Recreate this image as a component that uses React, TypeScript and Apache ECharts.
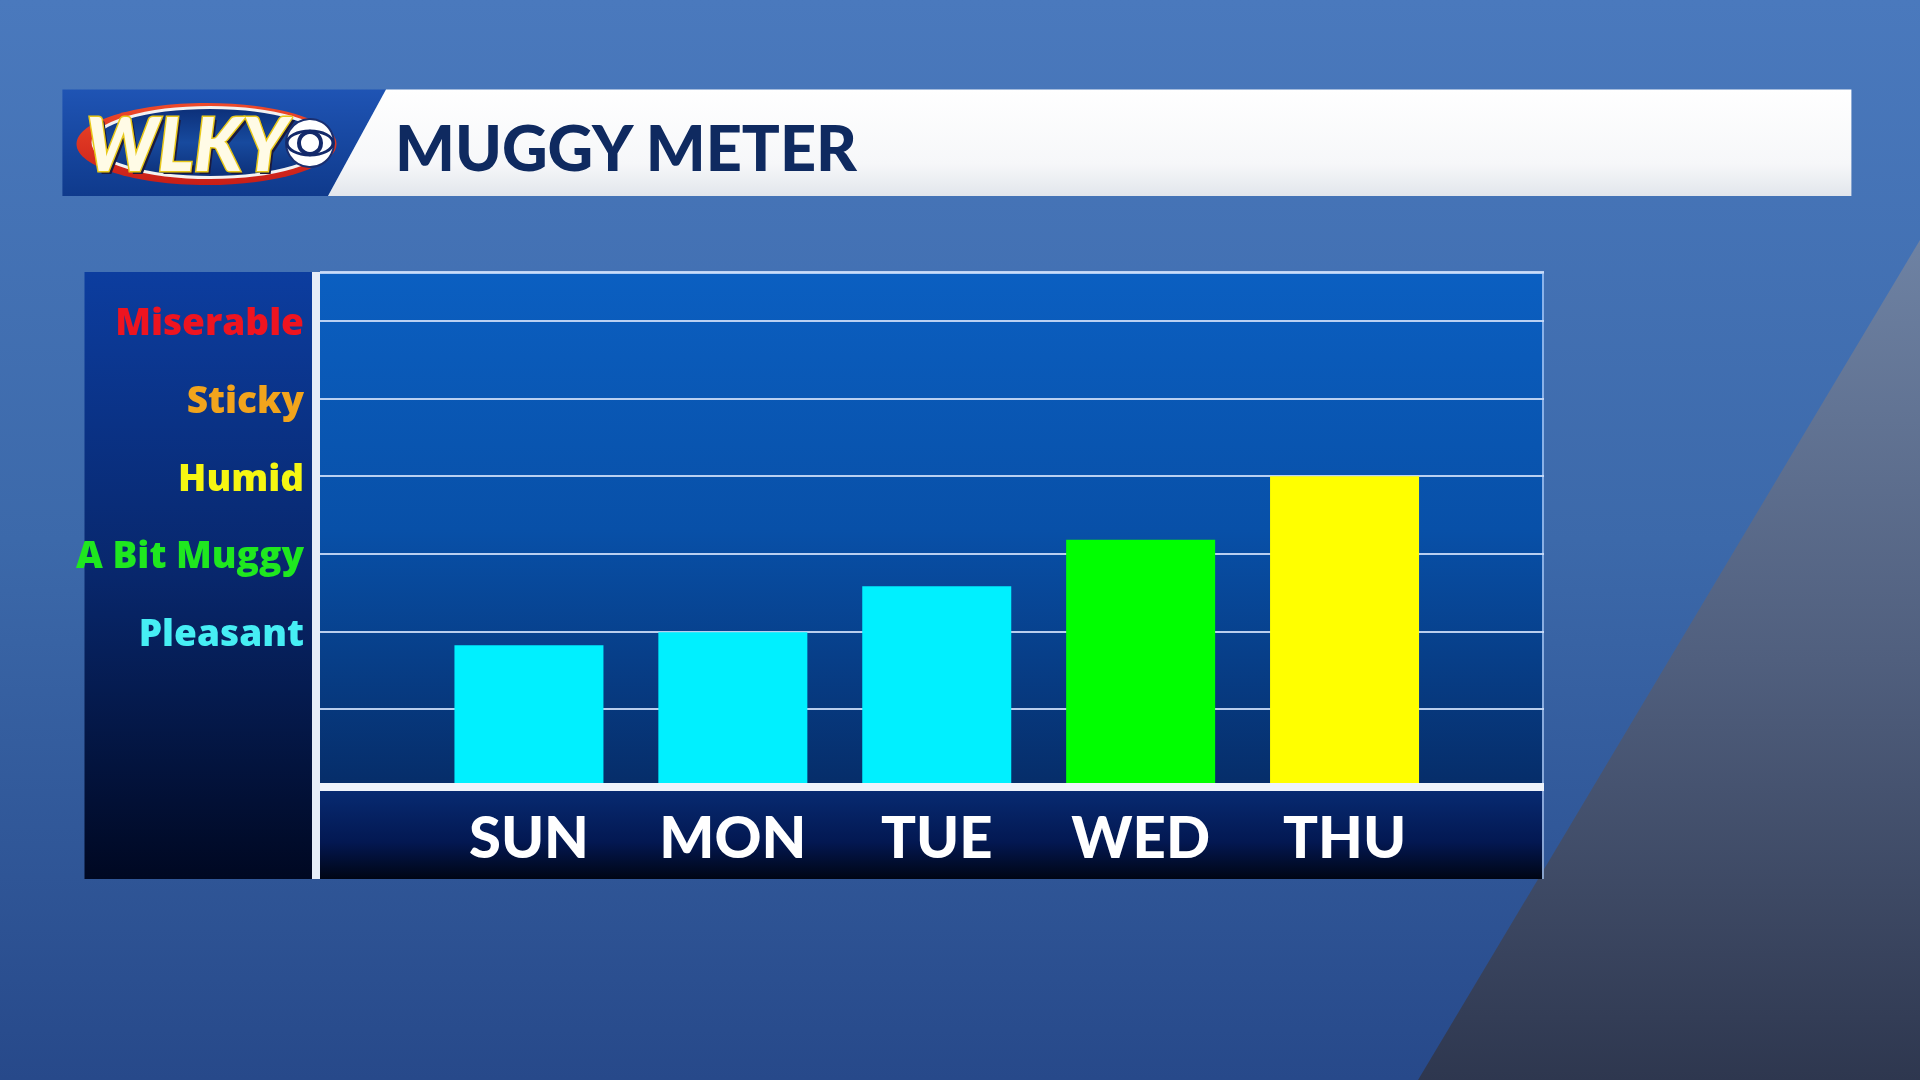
import React, { useEffect, useRef } from "react";
import * as echarts from "echarts";

const days = ["SUN", "MON", "TUE", "WED", "THU"];
const muggyValues = [1.82, 1.99, 2.58, 3.18, 4.0];
const barColors = ["#00f0ff", "#00f0ff", "#00f0ff", "#00ff00", "#ffff00"];
const levelLabels = ["", "", "Pleasant", "A Bit Muggy", "Humid", "Sticky", "Miserable"];
const levelColors = ["#ffffff", "#ffffff", "#46eef4", "#1fe81f", "#f6f612", "#f2a41c", "#ee1420"];
const yMax = 6.63;
const titleText = "MUGGY METER";
const logoText = "WLKY";

function lin(stops: [number, string][]) {
  return new echarts.graphic.LinearGradient(
    0, 0, 0, 1,
    stops.map(([offset, color]) => ({ offset, color }))
  );
}

export default function App() {
  const ref = useRef<HTMLDivElement>(null);

  useEffect(() => {
    if (!ref.current) return;
    const chart = echarts.init(ref.current, undefined, { renderer: "svg" });

    const rich: Record<string, any> = {};
    levelLabels.forEach((_, i) => {
      rich["l" + i] = {
        color: levelColors[i],
        fontFamily: "Open Sans",
        fontWeight: 800,
        fontSize: 37,
      };
    });

    const PL = 320, PR = 1544, PT = 272, BASE = 786.6, PB = 879;

    const option: any = {
      animation: false,
      backgroundColor: "transparent",
      graphic: [
        {
          type: "rect", z: -100,
          shape: { x: 0, y: 0, width: 1920, height: 1080 },
          style: { fill: lin([[0, "#4a79bd"], [0.5, "#3c69aa"], [1, "#27498a"]]) },
        },
        {
          type: "polygon", z: -99,
          shape: { points: [[1920, 240], [1920, 1080], [1418, 1080]] },
          style: { fill: lin([[0, "#6e82a3"], [0.5, "#505f7e"], [1, "#2e374f"]]) },
        },
        {
          type: "rect", z: -90,
          shape: { x: 84.5, y: PT, width: 312 - 84.5, height: PB - PT },
          style: { fill: lin([[0, "#0c3d9f"], [0.5, "#08276c"], [1, "#000822"]]) },
        },
        {
          type: "rect", z: -89,
          shape: { x: 312, y: PT, width: 8, height: PB - PT },
          style: { fill: "#e6edf8" },
        },
        {
          type: "rect", z: -90,
          shape: { x: PL, y: PT, width: PR - PL, height: BASE - PT },
          style: { fill: lin([[0, "#0b5fc1"], [0.5, "#0850a8"], [1, "#062d69"]]) },
        },
        {
          type: "rect", z: -90,
          shape: { x: PL, y: BASE, width: PR - PL, height: PB - BASE },
          style: { fill: lin([[0, "#082c74"], [0.6, "#031852"], [1, "#000514"]]) },
        },
        {
          type: "line", z: -80,
          shape: { x1: PL, y1: PT + 1, x2: PR, y2: PT + 1 },
          style: { stroke: "rgba(190,215,250,0.9)", lineWidth: 2 },
        },
        {
          type: "line", z: -80,
          shape: { x1: PR - 1, y1: PT, x2: PR - 1, y2: PB },
          style: { stroke: "rgba(170,200,245,0.8)", lineWidth: 2 },
        },
        {
          type: "polygon", z: 10,
          shape: { points: [[62.4, 89.4], [386, 89.4], [328, 196], [62.4, 196]] },
          style: { fill: lin([[0, "#1f54b4"], [1, "#0f3a8c"]]) },
        },
        {
          type: "polygon", z: 10,
          shape: { points: [[386, 89.4], [1851.4, 89.4], [1851.4, 196], [328, 196]] },
          style: { fill: lin([[0, "#ffffff"], [0.7, "#f6f7f9"], [1, "#e2e6ec"]]) },
        },
        {
          type: "text", z: 11,
          style: {
            text: titleText, x: 395, y: 146,
            fill: "#0f2a60",
            font: "900 63px Lato",
            verticalAlign: "middle", align: "left",
          },
        },
        {
          type: "ellipse", z: 11,
          shape: { cx: 206.5, cy: 144, rx: 130, ry: 41 },
          style: { fill: lin([[0, "#ef4a2a"], [1, "#c81e18"]]) },
        },
        {
          type: "ellipse", z: 12,
          shape: { cx: 210, cy: 142.5, rx: 117, ry: 35 },
          style: { fill: lin([[0, "#0c2f78"], [0.5, "#174a9e"], [1, "#0c2f78"]]), stroke: "#f2f2f2", lineWidth: 3 },
        },
        {
          type: "text", z: 13,
          style: {
            text: logoText, x: 89, y: 145,
            fill: "#1a1a40",
            font: "italic 900 74px Lato",
            verticalAlign: "middle", align: "left",
          },
        },
        {
          type: "text", z: 14,
          style: {
            text: logoText, x: 86, y: 142,
            fill: "#fffbe6",
            stroke: "#e8c81a", lineWidth: 3,
            font: "italic 900 74px Lato",
            verticalAlign: "middle", align: "left",
          },
        },
        {
          type: "circle", z: 14,
          shape: { cx: 310, cy: 143, r: 24 },
          style: { fill: "#ffffff", stroke: "#1a2f70", lineWidth: 2 },
        },
        {
          type: "ellipse", z: 15,
          shape: { cx: 310, cy: 143, rx: 23, ry: 12 },
          style: { fill: "#ffffff", stroke: "#13296a", lineWidth: 3 },
        },
        {
          type: "circle", z: 16,
          shape: { cx: 310, cy: 143, r: 11 },
          style: { fill: "#ffffff", stroke: "#13296a", lineWidth: 4 },
        },
      ],
      grid: [
        { left: PL, right: 1920 - PR, top: PT, bottom: 1080 - BASE, show: false },
        { left: 427, right: 473.5, top: PT, bottom: 1080 - BASE, show: false },
      ],
      xAxis: [
        {
          gridIndex: 0, type: "category", data: [""], z: 5,
          axisLine: { show: true, lineStyle: { color: "#eef3fb", width: 8, cap: "butt" } },
          axisTick: { show: false }, axisLabel: { show: false }, splitLine: { show: false },
        },
        {
          gridIndex: 1, type: "category", data: days,
          axisLine: { show: false }, axisTick: { show: false }, splitLine: { show: false },
          axisLabel: {
            color: "#ffffff", fontFamily: "Lato", fontWeight: 900, fontSize: 58,
            margin: 49, verticalAlign: "middle",
          },
        },
      ],
      yAxis: [
        {
          gridIndex: 0, type: "value", min: 0, max: yMax, interval: 1,
          axisLine: { show: false }, axisTick: { show: false },
          splitLine: { show: true, lineStyle: { color: "rgba(205,222,248,0.9)", width: 2 } },
          axisLabel: {
            margin: 16, align: "right",
            formatter: (v: number) => {
              const t = levelLabels[v];
              return t ? `{l${v}|${t}}` : "";
            },
            rich,
          },
        },
        {
          gridIndex: 1, type: "value", min: 0, max: yMax, interval: 1, show: false,
          splitLine: { show: false },
        },
      ],
      series: [
        {
          type: "bar", xAxisIndex: 1, yAxisIndex: 1, barWidth: 149,
          data: muggyValues.map((v, i) => ({ value: v, itemStyle: { color: barColors[i] } })),
        },
      ],
    };

    chart.setOption(option);
    return () => chart.dispose();
  }, []);

  return (
    <div
      ref={ref}
      style={{ position: "fixed", left: 0, top: 0, width: 1920, height: 1080 }}
    />
  );
}
